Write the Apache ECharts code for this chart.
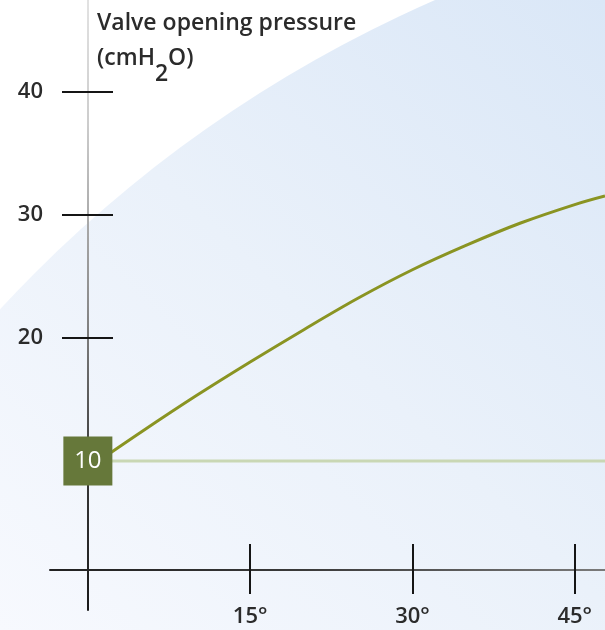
<!DOCTYPE html>
<html>
<head>
<meta charset="utf-8">
<script src="https://cdn.jsdelivr.net/npm/echarts@6/dist/echarts.min.js"></script>
<style>
  html, body { margin: 0; padding: 0; background: #fff; }
  #chart { width: 605px; height: 630px; }
</style>
</head>
<body>
<div id="chart"></div>
<script>
// tilt angle (deg) vs valve opening pressure (cmH2O)
const angles = [0, 5, 10, 15, 20, 25, 30, 35, 40, 45, 47.8];
const pressure = [9.4, 12.4, 15.3, 18.05, 20.7, 23.25, 25.55, 27.55, 29.35, 30.85, 31.55];
const baseAngles = [0, 47.8];
const baseValue = 10;
const xTicks = [15, 30, 45];
const yTicks = [20, 30, 40];

const FONT = '"Open Sans", "Liberation Sans", sans-serif';
const chart = echarts.init(document.getElementById("chart"));

// measure title parts for the subscript
const ctx = document.createElement("canvas").getContext("2d");
const titleFont = "600 23px " + FONT;
ctx.font = titleFont;
const wPre = ctx.measureText("(cmH").width;
const wSub = ctx.measureText("2").width;

const titleText = (text, x, y) => ({
  type: "text",
  x: x,
  y: y,
  style: { text: text, font: titleFont, fill: "#2b2b2b", align: "left", verticalAlign: "top" },
});

const option = {
  animation: false,
  grid: { left: 50, right: 0, top: 0, bottom: 20 },
  xAxis: [
    {
      type: "value",
      min: -3.5,
      max: 47.8,
      position: "bottom",
      offset: -40,
      axisLine: {
        onZero: false,
        lineStyle: {
          width: 2,
          color: new echarts.graphic.LinearGradient(0, 0, 605, 0, [
            { offset: 0, color: "#1c1c1c" },
            { offset: 0.5, color: "#3a3a3a" },
            { offset: 1, color: "#7a7a7a" },
          ], true),
        },
      },
      axisTick: { show: false },
      axisLabel: { show: false },
      splitLine: { show: false },
    },
    {
      type: "value",
      min: -3.5,
      max: 47.8,
      position: "bottom",
      offset: -16,
      axisLine: { show: false, onZero: false },
      axisTick: {
        show: true,
        inside: true,
        length: 50,
        customValues: xTicks,
        lineStyle: { color: "#151515", width: 2 },
      },
      axisLabel: {
        customValues: xTicks,
        formatter: (v) => v + "°",
        margin: 12,
        color: "#2b2b2b",
        fontSize: 22,
        fontWeight: 600,
        fontFamily: FONT,
      },
      splitLine: { show: false },
    },
  ],
  yAxis: [
    {
      type: "value",
      min: -2.11,
      max: 47.48,
      position: "left",
      axisLine: {
        onZero: true,
        lineStyle: {
          width: 2,
          color: new echarts.graphic.LinearGradient(0, 0, 0, 610, [
            { offset: 0, color: "#e2e2e2" },
            { offset: 0.2, color: "#cdcdcd" },
            { offset: 0.5, color: "#8c8c8c" },
            { offset: 0.75, color: "#3c3c3c" },
            { offset: 1, color: "#1a1a1a" },
          ], true),
        },
      },
      axisTick: { show: false },
      axisLabel: { show: false },
      splitLine: { show: false },
    },
    {
      type: "value",
      min: -2.11,
      max: 47.48,
      position: "left",
      offset: -63,
      axisLine: { show: false, onZero: false },
      axisTick: {
        show: true,
        length: 51,
        customValues: yTicks,
        lineStyle: { color: "#151515", width: 2 },
      },
      axisLabel: {
        customValues: yTicks,
        margin: 70,
        color: "#2b2b2b",
        fontSize: 22,
        fontWeight: 600,
        fontFamily: FONT,
      },
      splitLine: { show: false },
    },
  ],
  graphic: [
    {
      type: "circle",
      z: -10,
      silent: true,
      shape: { cx: 957, cy: 1195, r: 1304 },
      style: {
        fill: new echarts.graphic.LinearGradient(605, 0, 0, 630, [
          { offset: 0, color: "#dae7f7" },
          { offset: 0.5, color: "#eaf1fa" },
          { offset: 1, color: "#f7f9fe" },
        ], true),
      },
    },
    titleText("Valve opening pressure", 97, 12),
    titleText("(cmH", 97, 47),
    titleText("2", 97 + wPre, 63),
    titleText("O)", 97 + wPre + wSub, 47),
  ],
  series: [
    {
      type: "line",
      xAxisIndex: 0,
      yAxisIndex: 0,
      data: baseAngles.map((a) => [a, baseValue]),
      symbol: "none",
      lineStyle: { color: "#c9d7b4", width: 3 },
      z: 2,
      markPoint: {
        symbol: "rect",
        symbolSize: 49,
        itemStyle: { color: "#66783a" },
        label: {
          show: true,
          position: "inside",
          formatter: String(baseValue),
          color: "#ffffff",
          fontSize: 24,
          fontFamily: FONT,
        },
        data: [{ coord: [0, baseValue] }],
      },
    },
    {
      type: "line",
      xAxisIndex: 0,
      yAxisIndex: 0,
      data: angles.map((a, i) => [a, pressure[i]]),
      symbol: "none",
      smooth: 0.35,
      lineStyle: { color: "#8a9422", width: 3 },
      z: 3,
    },
  ],
};
chart.setOption(option);
</script>
</body>
</html>
